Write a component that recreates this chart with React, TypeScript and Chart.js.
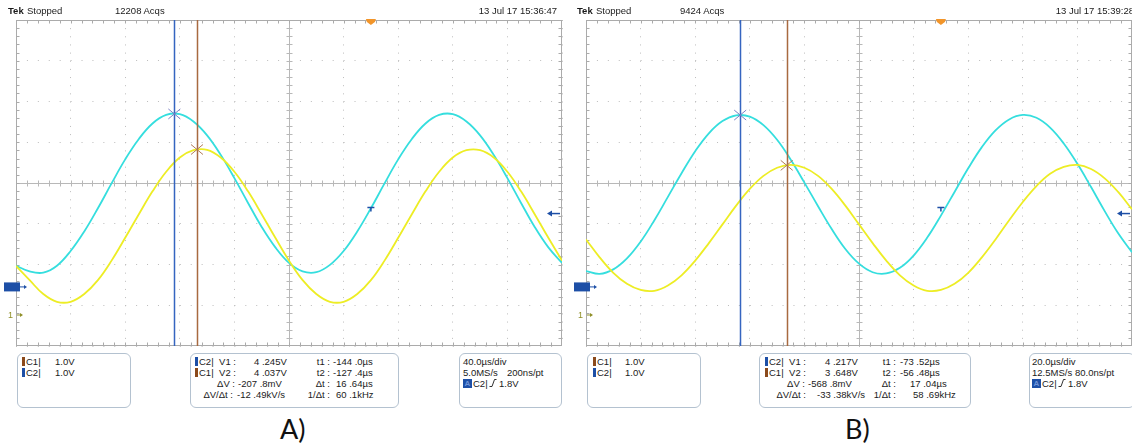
import React, { useEffect, useRef } from "react";
import { Chart, registerables } from "chart.js";

Chart.register(...registerables);

// ---------- Panel A (40 µs/div) ----------
const TIME_A = [-260, -250, -240, -230, -220, -210, -200, -190, -180, -170, -160, -150, -140, -130, -120, -110, -100, -90, -80, -70, -60, -50, -40, -30, -20, -10, 0, 10, 20, 30, 40, 50, 60, 70, 80, 90, 100, 110, 120, 130, 140];
const C2_A = [0.52, 0.38, 0.35, 0.52, 0.88, 1.36, 1.93, 2.54, 3.13, 3.63, 4.01, 4.22, 4.24, 4.06, 3.72, 3.24, 2.67, 2.06, 1.47, 0.97, 0.59, 0.38, 0.36, 0.54, 0.88, 1.36, 1.93, 2.54, 3.13, 3.63, 4.01, 4.22, 4.24, 4.06, 3.72, 3.24, 2.67, 2.06, 1.47, 0.97, 0.59];
const C1_A = [1.18, 0.83, 0.49, 0.30, 0.30, 0.49, 0.83, 1.31, 1.87, 2.45, 3.01, 3.49, 3.84, 4.02, 4.03, 3.84, 3.49, 3.01, 2.45, 1.87, 1.31, 0.83, 0.49, 0.30, 0.30, 0.49, 0.83, 1.31, 1.87, 2.45, 3.01, 3.49, 3.84, 4.02, 4.02, 3.84, 3.49, 3.01, 2.45, 1.87, 1.31];
const CURSOR_T_A = [-144.0, -127.4];
const CURSOR_V_A = [4.245, 4.037];
const X_RANGE_A = [-260, 140];
const X_DIV_A = 40;

// ---------- Panel B (20 µs/div) ----------
const TIME_B = [-130, -125, -120, -115, -110, -105, -100, -95, -90, -85, -80, -75, -70, -65, -60, -55, -50, -45, -40, -35, -30, -25, -20, -15, -10, -5, 0, 5, 10, 15, 20, 25, 30, 35, 40, 45, 50, 55, 60, 65, 70];
const C2_B = [0.39, 0.32, 0.43, 0.70, 1.11, 1.63, 2.21, 2.79, 3.33, 3.77, 4.07, 4.21, 4.18, 3.97, 3.61, 3.12, 2.56, 1.98, 1.42, 0.93, 0.57, 0.36, 0.33, 0.47, 0.77, 1.21, 1.75, 2.33, 2.91, 3.43, 3.84, 4.11, 4.22, 4.15, 3.91, 3.52, 3.02, 2.45, 1.86, 1.31, 0.85];
const C1_B = [1.83, 1.39, 1.01, 0.74, 0.59, 0.57, 0.70, 0.95, 1.31, 1.74, 2.20, 2.66, 3.07, 3.39, 3.59, 3.66, 3.59, 3.39, 3.07, 2.66, 2.20, 1.74, 1.31, 0.95, 0.70, 0.57, 0.59, 0.74, 1.01, 1.39, 1.83, 2.30, 2.75, 3.14, 3.44, 3.61, 3.66, 3.56, 3.33, 2.99, 2.57];
const CURSOR_T_B = [-73.52, -56.48];
const CURSOR_V_B = [4.217, 3.648];
const X_RANGE_B = [-130, 70];
const X_DIV_B = 20;

const TRIGGER_LEVEL = 1.8; // V on C2
const VOLTS_PER_DIV = 1.0;

// channel ground positions on screen (divisions from centre)
const C1_POS = -3.215;
const C2_POS = -2.55;

const FONT = "'Liberation Sans', Arial, sans-serif";
const CYAN = "#35dede";
const YELLOW = "#eded25";
const CUR_BLUE = "#3565c0";
const CUR_BROWN = "#a86a40";
const MARK_BLUE = "#1d4fa6";
const GRID = "#ababab";
const CENTER = "#b8b8b8";

const scopePlugin = {
  id: "scope",
  beforeDatasetsDraw(chart: any) {
    const { ctx, chartArea: a } = chart;
    ctx.save();
    ctx.lineWidth = 1;
    const L = Math.round(a.left) + 0.5;
    const R = Math.round(a.right) - 0.5;
    const T = Math.round(a.top) + 0.5;
    const B = Math.round(a.bottom) - 0.5;
    const cx = Math.round((a.left + a.right) / 2) + 0.5;
    const cy = Math.round((a.top + a.bottom) / 2) + 0.5;
    // centre cross with ticks
    ctx.strokeStyle = CENTER;
    ctx.beginPath();
    ctx.moveTo(L, cy);
    ctx.lineTo(R, cy);
    ctx.moveTo(cx, T);
    ctx.lineTo(cx, B);
    for (let i = 1; i < 50; i++) {
      const x = Math.round(a.left + (i * a.width) / 50) + 0.5;
      ctx.moveTo(x, cy - 3);
      ctx.lineTo(x, cy + 3);
    }
    for (let j = 1; j < 40; j++) {
      const y = Math.round(a.top + (j * a.height) / 40) + 0.5;
      ctx.moveTo(cx - 3, y);
      ctx.lineTo(cx + 3, y);
    }
    ctx.stroke();
    // frame with ticks
    ctx.strokeStyle = GRID;
    ctx.strokeRect(L, T, R - L, B - T);
    ctx.beginPath();
    for (let i = 1; i < 50; i++) {
      const x = Math.round(a.left + (i * a.width) / 50) + 0.5;
      ctx.moveTo(x, T);
      ctx.lineTo(x, T + 3);
      ctx.moveTo(x, B);
      ctx.lineTo(x, B - 3);
    }
    for (let j = 1; j < 40; j++) {
      const y = Math.round(a.top + (j * a.height) / 40) + 0.5;
      ctx.moveTo(L, y);
      ctx.lineTo(L + 3, y);
      ctx.moveTo(R, y);
      ctx.lineTo(R - 3, y);
    }
    ctx.stroke();
    ctx.restore();
  },
  afterDatasetsDraw(chart: any) {
    const { ctx, chartArea: a, scales } = chart;
    const xs = scales.x;
    const ys = scales.y;
    const o = chart.options.plugins.scope;
    ctx.save();
    // cursors
    const cols = [CUR_BLUE, CUR_BROWN];
    o.cursorT.forEach((t: number, i: number) => {
      const x = Math.round(xs.getPixelForValue(t)) + 0.5;
      ctx.strokeStyle = cols[i];
      ctx.lineWidth = 1.5;
      ctx.beginPath();
      ctx.moveTo(x, a.top);
      ctx.lineTo(x, a.bottom);
      ctx.stroke();
    });
    // X markers on cursor / trace intersections
    const xm = [
      { t: o.cursorT[0], v: o.cursorV[0] / VOLTS_PER_DIV + C2_POS, c: "#7b7fc4" },
      { t: o.cursorT[1], v: o.cursorV[1] / VOLTS_PER_DIV + C1_POS, c: "#b07a58" },
    ];
    xm.forEach((m) => {
      const x = xs.getPixelForValue(m.t);
      const y = ys.getPixelForValue(m.v);
      ctx.strokeStyle = m.c;
      ctx.lineWidth = 1;
      ctx.beginPath();
      ctx.moveTo(x - 6, y - 5);
      ctx.lineTo(x + 6, y + 5);
      ctx.moveTo(x - 6, y + 5);
      ctx.lineTo(x + 6, y - 5);
      ctx.stroke();
    });
    // trigger position (orange) at top
    const tx = xs.getPixelForValue(0);
    ctx.fillStyle = "#f2952a";
    ctx.beginPath();
    ctx.moveTo(tx - 5, a.top - 1);
    ctx.lineTo(tx + 5, a.top - 1);
    ctx.lineTo(tx + 4, a.top + 2);
    ctx.lineTo(tx, a.top + 5);
    ctx.lineTo(tx - 4, a.top + 2);
    ctx.closePath();
    ctx.fill();
    // trigger point "T" marker
    const ly = ys.getPixelForValue(TRIGGER_LEVEL / VOLTS_PER_DIV + C2_POS);
    ctx.strokeStyle = MARK_BLUE;
    ctx.lineWidth = 1.5;
    ctx.beginPath();
    ctx.moveTo(tx - 3.5, ly - 6);
    ctx.lineTo(tx + 3.5, ly - 6);
    ctx.moveTo(tx, ly - 6);
    ctx.lineTo(tx, ly - 2);
    ctx.stroke();
    // trigger level arrow at right edge
    ctx.beginPath();
    ctx.moveTo(a.right - 2, ly);
    ctx.lineTo(a.right - 12, ly);
    ctx.stroke();
    ctx.fillStyle = MARK_BLUE;
    ctx.beginPath();
    ctx.moveTo(a.right - 15, ly);
    ctx.lineTo(a.right - 10, ly - 3);
    ctx.lineTo(a.right - 10, ly + 3);
    ctx.closePath();
    ctx.fill();
    // ground markers (left)
    const g2 = ys.getPixelForValue(C2_POS);
    ctx.fillStyle = MARK_BLUE;
    ctx.fillRect(a.left - 12, g2 - 4.5, 16, 9);
    ctx.strokeStyle = MARK_BLUE;
    ctx.lineWidth = 1;
    ctx.beginPath();
    ctx.moveTo(a.left + 4, g2);
    ctx.lineTo(a.left + 9, g2);
    ctx.stroke();
    ctx.beginPath();
    ctx.moveTo(a.left + 11, g2);
    ctx.lineTo(a.left + 8, g2 - 2);
    ctx.lineTo(a.left + 8, g2 + 2);
    ctx.closePath();
    ctx.fill();
    const g1 = ys.getPixelForValue(C1_POS);
    ctx.fillStyle = "#8f8f28";
    ctx.font = `9px ${FONT}`;
    ctx.textBaseline = "middle";
    ctx.fillText("1", a.left - 8, g1 + 1.5);
    ctx.strokeStyle = "#8f8f28";
    ctx.beginPath();
    ctx.moveTo(a.left + 1, g1 + 1);
    ctx.lineTo(a.left + 5, g1 + 1);
    ctx.stroke();
    ctx.beginPath();
    ctx.moveTo(a.left + 7, g1 + 1);
    ctx.lineTo(a.left + 4, g1 - 1);
    ctx.lineTo(a.left + 4, g1 + 3);
    ctx.closePath();
    ctx.fill();
    ctx.restore();
  },
};

function makeConfig(time: number[], c2: number[], c1: number[], xr: number[], xdiv: number, cursorT: number[], cursorV: number[], padRight: number) {
  return {
    type: "line",
    data: {
      datasets: [
        {
          label: "C1",
          data: time.map((t, i) => ({ x: t, y: c1[i] / VOLTS_PER_DIV + C1_POS })),
          borderColor: YELLOW,
          borderWidth: 1.8,
          pointRadius: 0,
          tension: 0.4,
          fill: false,
        },
        {
          label: "C2",
          data: time.map((t, i) => ({ x: t, y: c2[i] / VOLTS_PER_DIV + C2_POS })),
          borderColor: CYAN,
          borderWidth: 1.8,
          pointRadius: 0,
          tension: 0.4,
          fill: false,
        },
      ],
    },
    options: {
      animation: false,
      responsive: false,
      maintainAspectRatio: false,
      events: [],
      layout: { autoPadding: false, padding: { left: 16, top: 20, right: padRight, bottom: 4 } },
      plugins: {
        legend: { display: false },
        tooltip: { enabled: false },
        scope: { cursorT, cursorV },
      },
      scales: {
        x: {
          type: "linear",
          min: xr[0],
          max: xr[1],
          afterBuildTicks: (s: any) => {
            const ticks = [];
            for (let i = 0; i <= 10; i++) ticks.push({ value: xr[0] + i * xdiv });
            s.ticks = ticks;
          },
          ticks: { display: false },
          grid: { color: "#bcbcbc", lineWidth: 1, drawTicks: false },
          border: { display: false, dash: [1, 7.15] },
        },
        y: {
          type: "linear",
          min: -4,
          max: 4,
          afterBuildTicks: (s: any) => {
            const ticks = [];
            for (let i = -4; i <= 4; i++) ticks.push({ value: i });
            s.ticks = ticks;
          },
          ticks: { display: false },
          grid: { color: "#bcbcbc", lineWidth: 1, drawTicks: false },
          border: { display: false, dash: [1, 9.92] },
        },
      },
    },
    plugins: [scopePlugin],
  };
}

function ScopeCanvas({ left, width, config }: { left: number; width: number; config: any }) {
  const ref = useRef<HTMLCanvasElement | null>(null);
  useEffect(() => {
    if (!ref.current) return;
    const chart = new Chart(ref.current, config);
    return () => chart.destroy();
  }, []);
  return (
    <canvas
      ref={ref}
      width={width}
      height={350}
      style={{ position: "absolute", left, top: 0, width, height: 350 }}
    />
  );
}

const txt: React.CSSProperties = {
  position: "absolute",
  fontFamily: FONT,
  fontSize: 9.5,
  lineHeight: "11px",
  color: "#1a1a1a",
  whiteSpace: "pre",
};

function L({ x, y, children, right, bold, size }: { x: number; y: number; children: any; right?: boolean; bold?: boolean; size?: number }) {
  const st: React.CSSProperties = { ...txt, top: y - 5.5 };
  if (size) st.fontSize = size;
  if (bold) st.fontWeight = "bold";
  if (right) st.right = 1132 - x;
  else st.left = x;
  return <div style={st}>{children}</div>;
}

function Sw({ x, y, c }: { x: number; y: number; c: string }) {
  return <div style={{ position: "absolute", left: x, top: y - 4.5, width: 3, height: 9, background: c }} />;
}

function Box({ x, w }: { x: number; w: number }) {
  return (
    <div
      style={{
        position: "absolute",
        left: x,
        top: 353,
        width: w,
        height: 55,
        border: "1px solid #b4c2d0",
        borderRadius: 6,
        boxSizing: "border-box",
      }}
    />
  );
}

function Edge({ x, y }: { x: number; y: number }) {
  return (
    <svg style={{ position: "absolute", left: x, top: y - 5 }} width={8} height={10}>
      <path d="M0.5 8.5 L3 8.5 L5.5 1.5 L7.5 1.5" stroke="#1a1a1a" strokeWidth={0.9} fill="none" />
    </svg>
  );
}

function TrigBox({ x, y }: { x: number; y: number }) {
  return (
    <div
      style={{
        position: "absolute",
        left: x,
        top: y - 4.5,
        width: 9,
        height: 9,
        background: MARK_BLUE,
        color: "#6f94d8",
        fontFamily: FONT,
        fontSize: 8,
        lineHeight: "9px",
        textAlign: "center",
        fontWeight: "bold",
      }}
    >
      A
    </div>
  );
}

const R1 = 361;
const R2 = 372;
const R3 = 383;
const R4 = 394;

export default function App() {
  const cfgA = makeConfig(TIME_A, C2_A, C1_A, X_RANGE_A, X_DIV_A, CURSOR_T_A, CURSOR_V_A, 8);
  const cfgB = makeConfig(TIME_B, C2_B, C1_B, X_RANGE_B, X_DIV_B, CURSOR_T_B, CURSOR_V_B, 0);
  return (
    <div style={{ position: "absolute", left: 0, top: 0, width: 1132, height: 446, overflow: "hidden", background: "#fff" }}>
      <ScopeCanvas left={0} width={570} config={cfgA} />
      <ScopeCanvas left={570} width={562} config={cfgB} />

      {/* ---------- headers ---------- */}
      <L x={8} y={10} bold size={9.5}>Tek</L>
      <L x={27} y={10} size={9.5}>Stopped</L>
      <L x={115} y={10} size={9.5}>12208 Acqs</L>
      <L x={557} y={10} right size={9.5}>13 Jul 17 15:36:47</L>

      <L x={577} y={10} bold size={9.5}>Tek</L>
      <L x={596} y={10} size={9.5}>Stopped</L>
      <L x={680} y={10} size={9.5}>9424 Acqs</L>
      <L x={1134} y={10} right size={9.5}>13 Jul 17 15:39:28</L>

      {/* ---------- panel A boxes ---------- */}
      <Box x={17} w={114} />
      <Sw x={22} y={R1} c="#8b4a1c" />
      <L x={26} y={R1}>C1|</L>
      <L x={55} y={R1}>1.0V</L>
      <Sw x={22} y={R2} c={MARK_BLUE} />
      <L x={26} y={R2}>C2|</L>
      <L x={55} y={R2}>1.0V</L>

      <Box x={190} w={209} />
      <Sw x={195} y={R1} c={MARK_BLUE} />
      <L x={199} y={R1}>C2|</L>
      <L x={236} y={R1} right>V1 :</L>
      <L x={254} y={R1}>4 .245V</L>
      <L x={330} y={R1} right>t1 :</L>
      <L x={333} y={R1}>-144 .0µs</L>
      <Sw x={195} y={R2} c="#8b4a1c" />
      <L x={199} y={R2}>C1|</L>
      <L x={236} y={R2} right>V2 :</L>
      <L x={254} y={R2}>4 .037V</L>
      <L x={330} y={R2} right>t2 :</L>
      <L x={333} y={R2}>-127 .4µs</L>
      <L x={235} y={R3} right>ΔV :</L>
      <L x={238} y={R3}>-207 .8mV</L>
      <L x={330} y={R3} right>Δt :</L>
      <L x={336} y={R3}>16 .64µs</L>
      <L x={233} y={R4} right>ΔV/Δt :</L>
      <L x={237} y={R4}>-12 .49kV/s</L>
      <L x={330} y={R4} right>1/Δt :</L>
      <L x={336} y={R4}>60 .1kHz</L>

      <Box x={459} w={103} />
      <L x={463} y={R1}>40.0µs/div</L>
      <L x={463} y={R2}>5.0MS/s</L>
      <L x={507} y={R2}>200ns/pt</L>
      <TrigBox x={463} y={R3} />
      <L x={473} y={R3}>C2|</L>
      <Edge x={489} y={R3} />
      <L x={499} y={R3}>1.8V</L>

      {/* ---------- panel B boxes ---------- */}
      <Box x={587} w={114} />
      <Sw x={593} y={R1} c="#8b4a1c" />
      <L x={597} y={R1}>C1|</L>
      <L x={625} y={R1}>1.0V</L>
      <Sw x={593} y={R2} c={MARK_BLUE} />
      <L x={597} y={R2}>C2|</L>
      <L x={625} y={R2}>1.0V</L>

      <Box x={759} w={212} />
      <Sw x={765} y={R1} c={MARK_BLUE} />
      <L x={769} y={R1}>C2|</L>
      <L x={806} y={R1} right>V1 :</L>
      <L x={825} y={R1}>4 .217V</L>
      <L x={896} y={R1} right>t1 :</L>
      <L x={900} y={R1}>-73 .52µs</L>
      <Sw x={765} y={R2} c="#8b4a1c" />
      <L x={769} y={R2}>C1|</L>
      <L x={806} y={R2} right>V2 :</L>
      <L x={825} y={R2}>3 .648V</L>
      <L x={896} y={R2} right>t2 :</L>
      <L x={900} y={R2}>-56 .48µs</L>
      <L x={805} y={R3} right>ΔV :</L>
      <L x={808} y={R3}>-568 .8mV</L>
      <L x={896} y={R3} right>Δt :</L>
      <L x={910} y={R3}>17 .04µs</L>
      <L x={806} y={R4} right>ΔV/Δt :</L>
      <L x={817} y={R4}>-33 .38kV/s</L>
      <L x={896} y={R4} right>1/Δt :</L>
      <L x={913} y={R4}>58 .69kHz</L>

      <Box x={1029} w={106} />
      <L x={1032} y={R1}>20.0µs/div</L>
      <L x={1032} y={R2}>12.5MS/s</L>
      <L x={1075} y={R2}>80.0ns/pt</L>
      <TrigBox x={1032} y={R3} />
      <L x={1042} y={R3}>C2|</L>
      <Edge x={1058} y={R3} />
      <L x={1068} y={R3}>1.8V</L>

      {/* ---------- labels ---------- */}
      <div style={{ position: "absolute", left: 280, top: 412, fontFamily: "Lato, 'Open Sans', sans-serif", fontSize: 27, color: "#111" }}>A)</div>
      <div style={{ position: "absolute", left: 845, top: 412, fontFamily: "Lato, 'Open Sans', sans-serif", fontSize: 27, color: "#111" }}>B)</div>
    </div>
  );
}
